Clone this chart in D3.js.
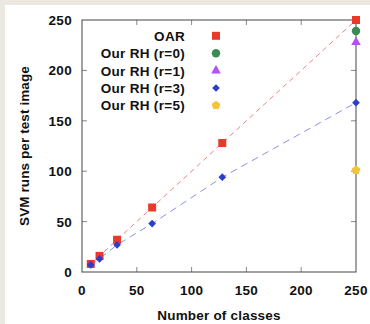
<!DOCTYPE html>
<html>
<head>
<meta charset="utf-8">
<script src="https://cdn.jsdelivr.net/npm/d3@7"></script>
<style>
  html, body { margin: 0; padding: 0; background: #ece8e1; }
  svg { display: block; }
  text { font-family: "Liberation Sans", Arial, sans-serif; font-weight: bold; fill: #111; }
</style>
</head>
<body>
<svg id="chart" width="370" height="324"></svg>
<script>
// Number of classes evaluated
const classes = [8, 16, 32, 64, 128, 250];
// SVM runs per test image, one-against-rest
const oarRuns = [8, 16, 32, 64, 128, 250];
// SVM runs per test image, RH with r = 3
const rh3Runs = [7, 13, 27, 48, 94, 168];
// Single-point results at 250 classes
const rh0 = [{ x: 250, y: 239 }];
const rh1 = [{ x: 250, y: 228 }];
const rh5 = [{ x: 250, y: 101 }];
const xTicks = [0, 50, 100, 150, 200, 250];
const yTicks = [0, 50, 100, 150, 200, 250];

const svg = d3.select("#chart");
svg.append("rect").attr("x", 5).attr("y", 5).attr("width", 365).attr("height", 319).attr("fill", "#fff");

const plotL = 82, plotR = 356, plotT = 20, plotB = 272;
const x = d3.scaleLinear().domain([0, 250]).range([plotL, plotR]);
const y = d3.scaleLinear().domain([0, 250]).range([plotB, plotT]);

// inner tick marks on all four sides
const tickLen = 5;
const g = svg.append("g");
xTicks.slice(1, -1).forEach(t => {
  g.append("line").attr("x1", x(t)).attr("x2", x(t)).attr("y1", plotB).attr("y2", plotB - tickLen).attr("stroke", "#888");
  g.append("line").attr("x1", x(t)).attr("x2", x(t)).attr("y1", plotT).attr("y2", plotT + tickLen).attr("stroke", "#888");
});
yTicks.slice(1, -1).forEach(t => {
  g.append("line").attr("y1", y(t)).attr("y2", y(t)).attr("x1", plotL).attr("x2", plotL + tickLen).attr("stroke", "#888");
  g.append("line").attr("y1", y(t)).attr("y2", y(t)).attr("x1", plotR).attr("x2", plotR - tickLen).attr("stroke", "#888");
});

// frame
svg.append("rect").attr("x", plotL).attr("y", plotT).attr("width", plotR - plotL).attr("height", plotB - plotT)
  .attr("fill", "none").attr("stroke", "#444").attr("stroke-width", 1);

// tick labels
svg.append("g").selectAll("text").data(xTicks).join("text")
  .attr("x", d => x(d)).attr("y", plotB + 23).attr("text-anchor", "middle")
  .attr("font-size", 13.5).attr("letter-spacing", 0.3).text(d => d);
svg.append("g").selectAll("text").data(yTicks).join("text")
  .attr("x", plotL - 10).attr("y", d => y(d) + 5).attr("text-anchor", "end")
  .attr("font-size", 13.5).attr("letter-spacing", 0.3).text(d => d);

// axis titles
svg.append("text").attr("x", x(125)).attr("y", 320).attr("text-anchor", "middle")
  .attr("font-size", 13.5).attr("letter-spacing", 0.2).text("Number of classes");
svg.append("text").attr("transform", `translate(28.5,${(plotT + plotB) / 2}) rotate(-90)`)
  .attr("text-anchor", "middle").attr("font-size", 13.5).attr("letter-spacing", 0.1).text("SVM runs per test image");

// dashed trend lines
const line = d3.line().x(d => x(d[0])).y(d => y(d[1]));
svg.append("path").datum(classes.map((c, i) => [c, oarRuns[i]])).attr("d", line)
  .attr("fill", "none").attr("stroke", "#f08080").attr("stroke-width", 1).attr("stroke-dasharray", "5,4");
svg.append("path").datum(classes.map((c, i) => [c, rh3Runs[i]])).attr("d", line)
  .attr("fill", "none").attr("stroke", "#8a90f0").attr("stroke-width", 1).attr("stroke-dasharray", "7,5");

const colors = { oar: "#e8392a", r0: "#3a8a52", r1: "#b54ff2", r3: "#2b3fcc", r5: "#f5c23a" };
const sym = {
  oar: d3.symbol().type(d3.symbolSquare).size(64),
  r0: d3.symbol().type(d3.symbolCircle).size(56),
  r1: d3.symbol().type(d3.symbolTriangle).size(40),
  r3: d3.symbol().type(d3.symbolSquare).size(30)
};
// pentagon path
function pentagon(r) {
  const pts = d3.range(5).map(i => {
    const a = -Math.PI / 2 + i * 2 * Math.PI / 5;
    return [r * Math.cos(a), r * Math.sin(a)];
  });
  return "M" + pts.map(p => p.join(",")).join("L") + "Z";
}
function marker(key, cx, cy) {
  const rot = key === "r3" ? " rotate(45)" : "";
  const p = svg.append("path").attr("transform", `translate(${cx},${cy})${rot}`).attr("fill", colors[key]);
  if (key === "r5") p.attr("d", pentagon(4.6));
  else p.attr("d", sym[key]());
}

classes.forEach((c, i) => marker("oar", x(c), y(oarRuns[i])));
rh0.forEach(d => marker("r0", x(d.x), y(d.y)));
rh1.forEach(d => marker("r1", x(d.x), y(d.y)));
classes.forEach((c, i) => marker("r3", x(c), y(rh3Runs[i])));
rh5.forEach(d => marker("r5", x(d.x), y(d.y)));

// legend
const legend = [
  { key: "oar", label: "OAR" },
  { key: "r0", label: "Our RH (r=0)" },
  { key: "r1", label: "Our RH (r=1)" },
  { key: "r3", label: "Our RH (r=3)" },
  { key: "r5", label: "Our RH (r=5)" }
];
legend.forEach((d, i) => {
  const ly = 35.8 + i * 17.4;
  svg.append("text").attr("x", 185).attr("y", ly + 5).attr("text-anchor", "end")
    .attr("font-size", 13.5).attr("letter-spacing", 0.3).text(d.label);
  marker(d.key, 216, ly);
});
</script>
</body>
</html>
